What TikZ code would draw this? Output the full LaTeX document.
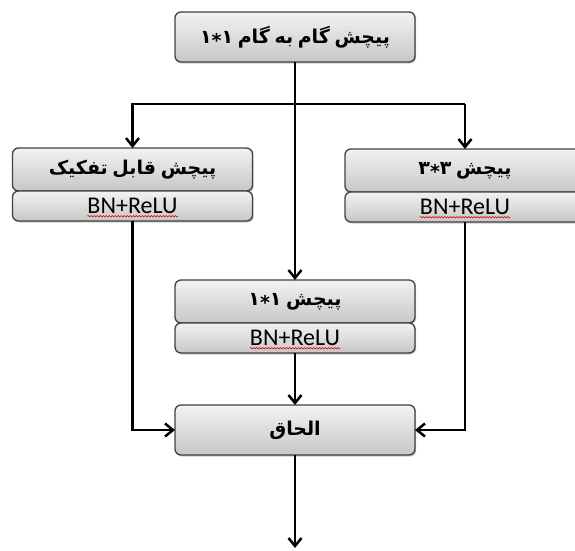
\documentclass[tikz,border=0pt]{standalone}
\usepackage{fontspec}
\usetikzlibrary{arrows.meta,shadows,decorations.pathmorphing}
\TeXXeTstate=1
\newfontfamily\fa[Script=Arabic,WordSpace=0.7]{DejaVu Sans}
\newfontfamily\carl{Carlito}
\newcommand{\myast}{\lower0.22em\hbox{*}}
\tikzset{
  boxbase/.style={draw=black!75, line width=1.3pt, rounded corners=6pt,
    top color=black!5, bottom color=black!22, inner sep=0pt, outer sep=0pt,
    minimum width=240pt,
    drop shadow={shadow xshift=1.2pt, shadow yshift=-1.5pt, opacity=0.35, fill=black!60}},
  bigbox/.style={boxbase, minimum height=50pt},
  headbox/.style={boxbase, minimum height=43pt},
  subbox/.style={boxbase, minimum height=30pt},
  fatxt/.style={font=\fa\bfseries\fontsize{19}{22}\selectfont},
  entxt/.style={font=\carl\fontsize{24}{28}\selectfont, inner sep=0pt, text depth=0pt},
  arr/.style={line width=2.5pt, -{Straight Barb[length=8pt,width=13pt,line width=2.5pt]}},
  wavy/.style={draw=red!85!black, line width=0.6pt, decorate,
    decoration={snake, segment length=3pt, amplitude=0.7pt}}
}
\begin{document}
\begin{tikzpicture}[x=1pt,y=-1pt]
\useasboundingbox (0,0) rectangle (575,550);
% boxes
\node[bigbox, fatxt] (top) at (295,37) {\beginR پیچش گام به گام ۱\myast۱\endR};
\node[headbox, fatxt] (l1) at (132.5,169.5) {\beginR پیچش قابل تفکیک\endR};
\node[subbox] (l2) at (132.5,206) {};
\node[entxt] (l2t) at (l2) {BN+ReLU};
\node[headbox, fatxt] (r1) at (465,170.5) {\beginR پیچش ۳\myast۳\endR};
\node[subbox] (r2) at (465,207) {};
\node[entxt] (r2t) at (r2) {BN+ReLU};
\node[headbox, fatxt] (m1) at (295,301.5) {\beginR پیچش ۱\myast۱\endR};
\node[subbox] (m2) at (295,338) {};
\node[entxt] (m2t) at (m2) {BN+ReLU};
\node[bigbox, fatxt] (cc) at (295,430) {\beginR الحاق\endR};
% spell-check underlines
\draw[wavy] ([yshift=-2.5pt]l2t.base west) -- ([yshift=-2.5pt]l2t.base east);
\draw[wavy] ([yshift=-2.5pt]r2t.base west) -- ([yshift=-2.5pt]r2t.base east);
\draw[wavy] ([yshift=-2.5pt]m2t.base west) -- ([yshift=-2.5pt]m2t.base east);
% connectors
\coordinate (jl) at (132.5,104);
\coordinate (jr) at (465,104);
\coordinate (out) at (295,548);
\draw[arr] (top.south) -- (m1.north);
\draw[arr] (jr) -- (jl) -- (l1.north);
\draw[arr] (jr) -- (r1.north);
\draw[arr] (l2.south) |- (cc.west);
\draw[arr] (r2.south) |- (cc.east);
\draw[arr] (m2.south) -- (cc.north);
\draw[arr] (cc.south) -- (out);
\end{tikzpicture}
\end{document}
